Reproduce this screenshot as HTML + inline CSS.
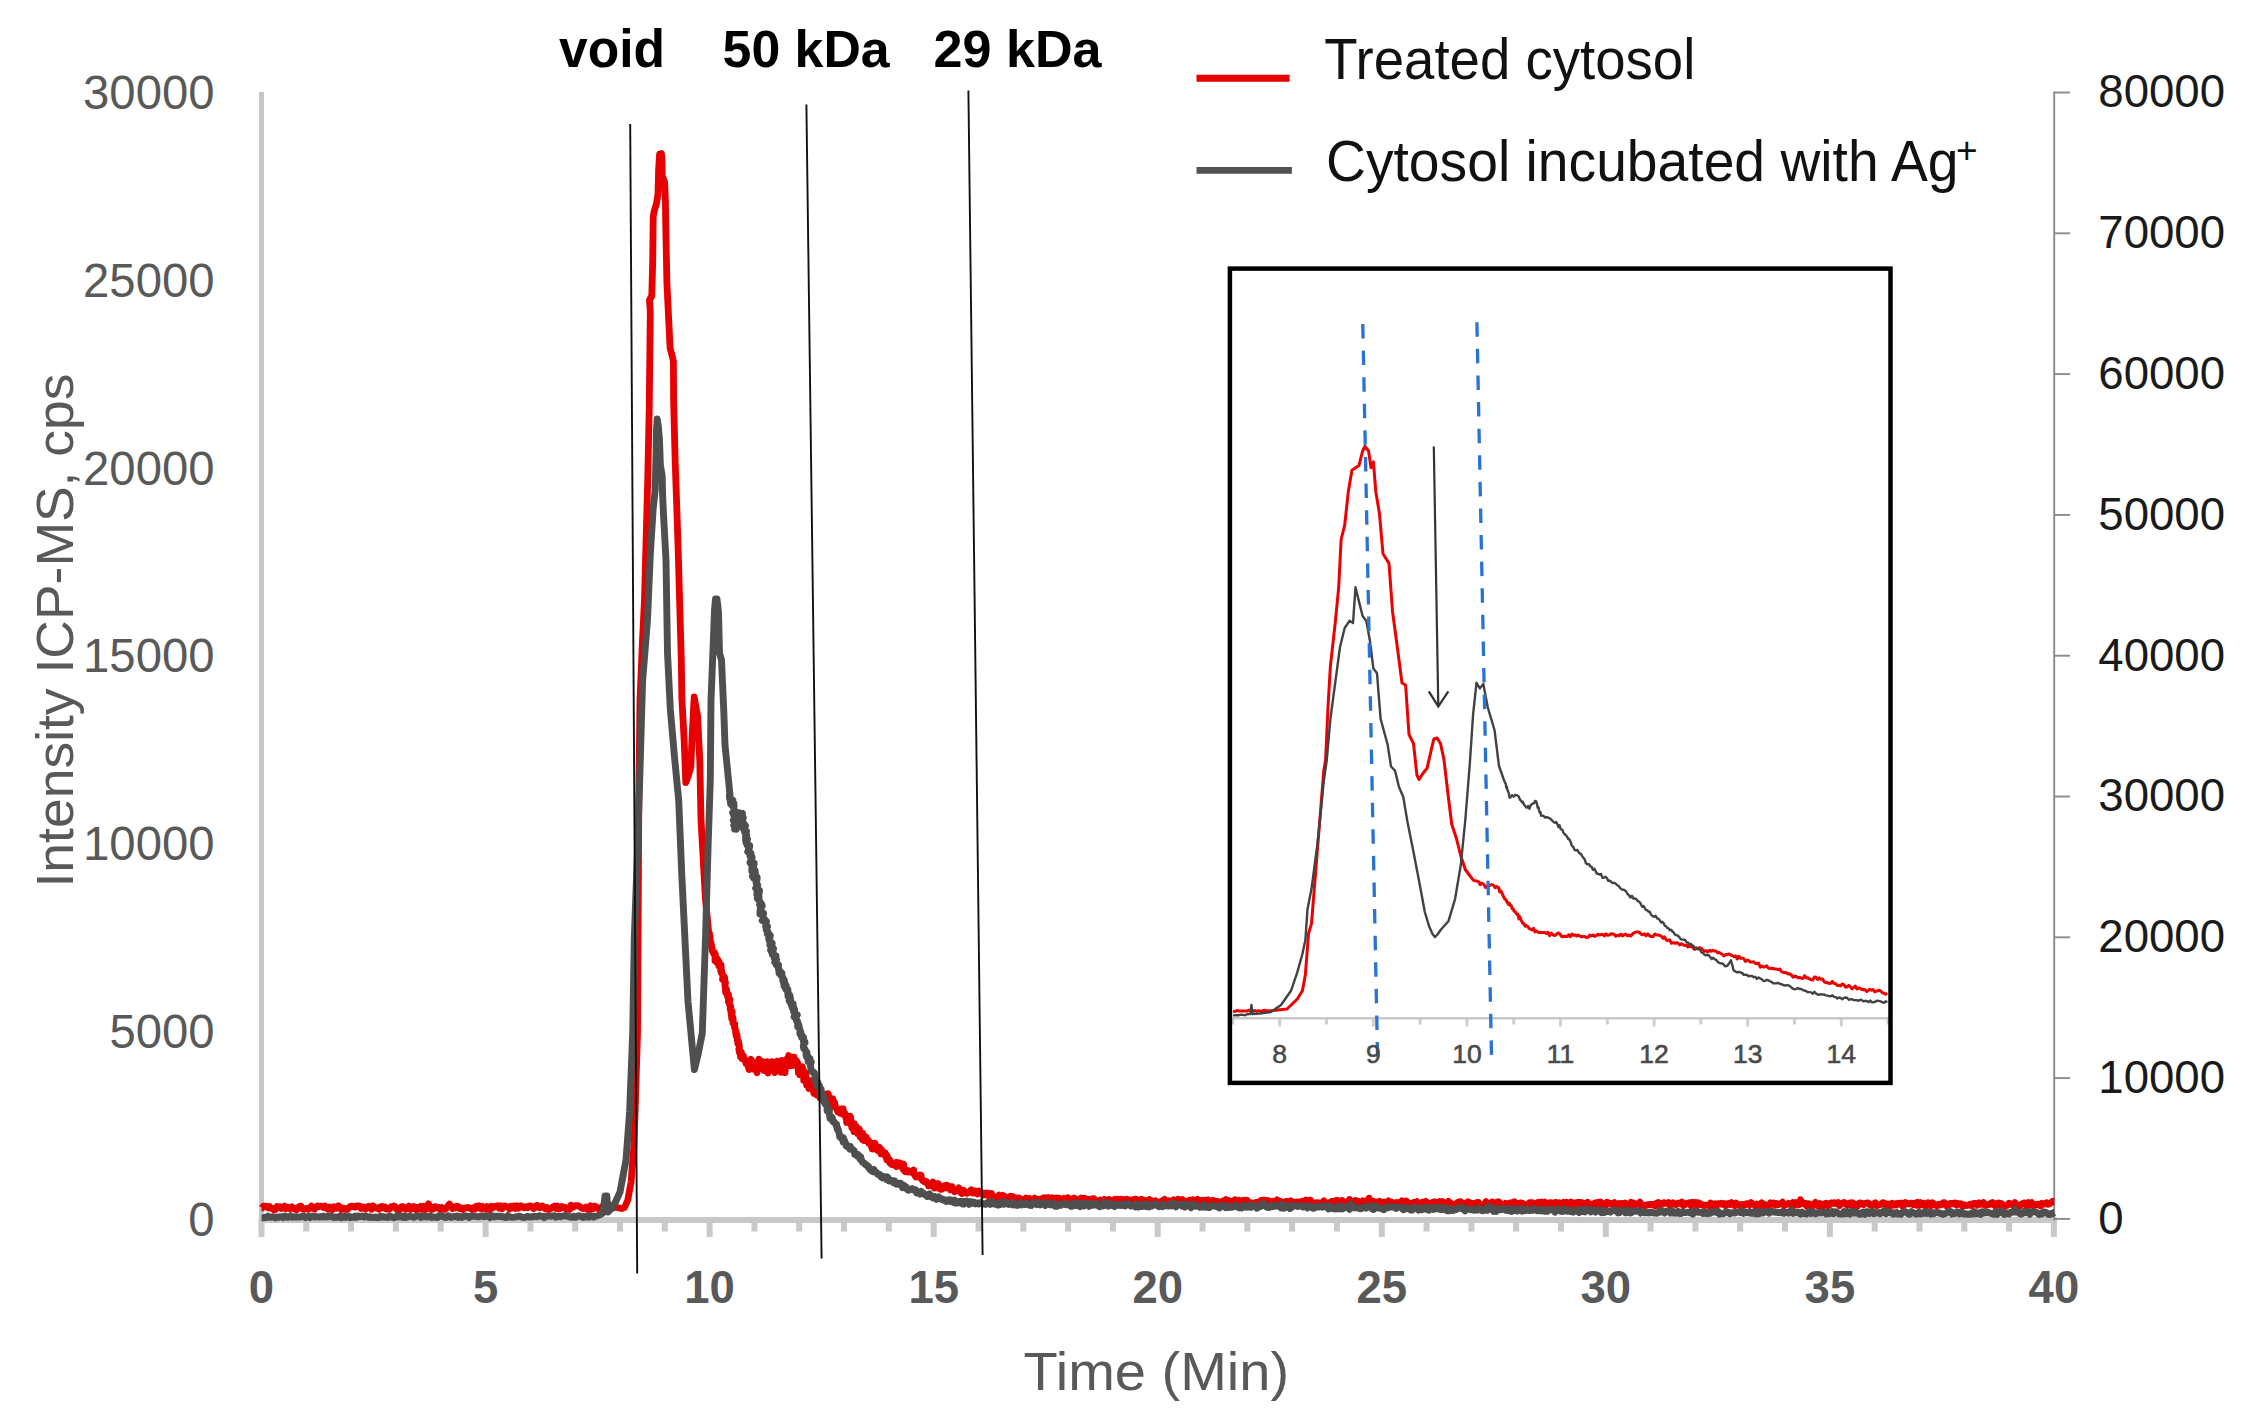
<!DOCTYPE html>
<html><head><meta charset="utf-8"><title>Chromatogram</title>
<style>
html,body{margin:0;padding:0;background:#fff;width:2246px;height:1423px;overflow:hidden}
svg{display:block;position:absolute;left:0;top:0}
</style></head><body>
<svg width="2246" height="1423" viewBox="0 0 2246 1423" font-family="'Liberation Sans', Arial, sans-serif"><g stroke="#c9c9c9" stroke-width="6"><line x1="261.5" y1="1219" x2="261.5" y2="1237"/><line x1="306.3" y1="1219" x2="306.3" y2="1231.5"/><line x1="351.1" y1="1219" x2="351.1" y2="1231.5"/><line x1="395.9" y1="1219" x2="395.9" y2="1231.5"/><line x1="440.7" y1="1219" x2="440.7" y2="1231.5"/><line x1="485.6" y1="1219" x2="485.6" y2="1237"/><line x1="530.4" y1="1219" x2="530.4" y2="1231.5"/><line x1="575.2" y1="1219" x2="575.2" y2="1231.5"/><line x1="620.0" y1="1219" x2="620.0" y2="1231.5"/><line x1="664.8" y1="1219" x2="664.8" y2="1231.5"/><line x1="709.6" y1="1219" x2="709.6" y2="1237"/><line x1="754.4" y1="1219" x2="754.4" y2="1231.5"/><line x1="799.2" y1="1219" x2="799.2" y2="1231.5"/><line x1="844.0" y1="1219" x2="844.0" y2="1231.5"/><line x1="888.8" y1="1219" x2="888.8" y2="1231.5"/><line x1="933.7" y1="1219" x2="933.7" y2="1237"/><line x1="978.5" y1="1219" x2="978.5" y2="1231.5"/><line x1="1023.3" y1="1219" x2="1023.3" y2="1231.5"/><line x1="1068.1" y1="1219" x2="1068.1" y2="1231.5"/><line x1="1112.9" y1="1219" x2="1112.9" y2="1231.5"/><line x1="1157.7" y1="1219" x2="1157.7" y2="1237"/><line x1="1202.5" y1="1219" x2="1202.5" y2="1231.5"/><line x1="1247.3" y1="1219" x2="1247.3" y2="1231.5"/><line x1="1292.1" y1="1219" x2="1292.1" y2="1231.5"/><line x1="1336.9" y1="1219" x2="1336.9" y2="1231.5"/><line x1="1381.8" y1="1219" x2="1381.8" y2="1237"/><line x1="1426.6" y1="1219" x2="1426.6" y2="1231.5"/><line x1="1471.4" y1="1219" x2="1471.4" y2="1231.5"/><line x1="1516.2" y1="1219" x2="1516.2" y2="1231.5"/><line x1="1561.0" y1="1219" x2="1561.0" y2="1231.5"/><line x1="1605.8" y1="1219" x2="1605.8" y2="1237"/><line x1="1650.6" y1="1219" x2="1650.6" y2="1231.5"/><line x1="1695.4" y1="1219" x2="1695.4" y2="1231.5"/><line x1="1740.2" y1="1219" x2="1740.2" y2="1231.5"/><line x1="1785.0" y1="1219" x2="1785.0" y2="1231.5"/><line x1="1829.9" y1="1219" x2="1829.9" y2="1237"/><line x1="1874.7" y1="1219" x2="1874.7" y2="1231.5"/><line x1="1919.5" y1="1219" x2="1919.5" y2="1231.5"/><line x1="1964.3" y1="1219" x2="1964.3" y2="1231.5"/><line x1="2009.1" y1="1219" x2="2009.1" y2="1231.5"/><line x1="2053.9" y1="1219" x2="2053.9" y2="1237"/></g>
<line x1="261.5" y1="92" x2="261.5" y2="1222" stroke="#c6c6c6" stroke-width="4.9"/>
<line x1="259" y1="1220" x2="2057" y2="1220" stroke="#c8c8c8" stroke-width="6"/>
<g stroke="#8a8a8a" stroke-width="1.9"><line x1="2054" y1="92.5" x2="2070" y2="92.5"/><line x1="2054" y1="233.3" x2="2070" y2="233.3"/><line x1="2054" y1="374.1" x2="2070" y2="374.1"/><line x1="2054" y1="514.9" x2="2070" y2="514.9"/><line x1="2054" y1="655.7" x2="2070" y2="655.7"/><line x1="2054" y1="796.5" x2="2070" y2="796.5"/><line x1="2054" y1="937.3" x2="2070" y2="937.3"/><line x1="2054" y1="1078.1" x2="2070" y2="1078.1"/><line x1="2054" y1="1218.9" x2="2070" y2="1218.9"/><line x1="2054.2" y1="91.5" x2="2054.2" y2="1220.5"/></g>
<polyline points="261.5,1208.1 262.0,1208.1 263.5,1206.2 265.0,1206.1 266.5,1206.3 268.0,1207.7 269.5,1206.5 271.0,1208.5 272.5,1208.3 274.0,1209.9 275.5,1209.4 277.0,1206.6 278.5,1207.2 280.0,1206.7 281.5,1208.5 283.0,1208.2 284.5,1206.2 286.0,1208.7 287.5,1207.2 289.0,1207.8 290.5,1209.1 292.0,1206.9 293.5,1208.1 295.0,1208.9 296.5,1209.9 298.0,1207.6 299.5,1206.6 301.0,1206.1 302.5,1209.0 304.0,1209.4 305.5,1208.7 307.0,1208.3 308.5,1209.3 310.0,1207.8 311.5,1206.2 313.0,1208.5 314.5,1209.2 316.0,1207.5 317.5,1206.0 319.0,1206.6 320.5,1206.1 322.0,1206.4 323.5,1207.5 325.0,1206.2 326.5,1208.1 328.0,1209.2 329.5,1207.0 331.0,1207.3 332.5,1209.7 334.0,1206.6 335.5,1206.8 337.0,1208.2 338.5,1205.9 340.0,1207.4 341.5,1209.7 343.0,1207.9 344.5,1208.6 346.0,1209.5 347.5,1209.4 349.0,1207.4 350.5,1206.3 352.0,1206.1 353.5,1206.7 355.0,1207.2 356.5,1205.9 358.0,1206.3 359.5,1206.0 361.0,1208.3 362.5,1206.9 364.0,1207.3 365.5,1209.2 367.0,1207.7 368.5,1206.2 370.0,1207.2 371.5,1209.2 373.0,1205.9 374.5,1207.9 376.0,1208.0 377.5,1207.9 379.0,1209.3 380.5,1206.9 382.0,1206.5 383.5,1208.0 385.0,1207.1 386.5,1209.1 388.0,1209.2 389.5,1209.1 391.0,1206.7 392.5,1207.2 394.0,1205.9 395.5,1206.8 397.0,1209.6 398.5,1209.6 400.0,1209.6 401.5,1206.7 403.0,1206.6 404.5,1208.3 406.0,1209.2 407.5,1208.4 409.0,1206.1 410.5,1209.4 412.0,1208.8 413.5,1206.5 415.0,1207.1 416.5,1209.7 418.0,1207.4 419.5,1208.7 421.0,1206.3 422.5,1209.4 424.0,1206.4 425.5,1209.7 427.0,1207.2 428.5,1203.8 430.0,1208.4 431.5,1209.5 433.0,1209.2 434.5,1206.6 436.0,1206.9 437.5,1208.1 439.0,1207.4 440.5,1209.4 442.0,1207.6 443.5,1209.4 445.0,1209.4 446.5,1207.9 448.0,1205.8 449.5,1204.2 451.0,1206.4 452.5,1208.6 454.0,1207.0 455.5,1207.9 457.0,1206.1 458.5,1206.7 460.0,1208.8 461.5,1208.0 463.0,1209.4 464.5,1208.2 466.0,1207.8 467.5,1207.5 469.0,1207.6 470.5,1208.5 472.0,1209.5 473.5,1207.9 475.0,1209.1 476.5,1206.2 478.0,1206.0 479.5,1206.0 481.0,1208.8 482.5,1206.3 484.0,1208.3 485.5,1209.2 487.0,1206.6 488.5,1207.3 490.0,1209.6 491.5,1206.3 493.0,1207.7 494.5,1206.4 496.0,1206.6 497.5,1205.8 499.0,1208.2 500.5,1205.9 502.0,1208.8 503.5,1206.1 505.0,1205.8 506.5,1206.7 508.0,1207.3 509.5,1208.9 511.0,1206.2 512.5,1207.9 514.0,1206.0 515.5,1208.4 517.0,1205.9 518.5,1208.2 520.0,1206.0 521.5,1205.9 523.0,1207.4 524.5,1207.8 526.0,1206.7 527.5,1207.7 529.0,1206.1 530.5,1205.8 532.0,1206.9 533.5,1208.6 535.0,1207.6 536.5,1205.4 538.0,1205.7 539.5,1207.8 541.0,1207.5 542.5,1206.0 544.0,1207.3 545.5,1208.9 547.0,1207.6 548.5,1209.5 550.0,1208.9 551.5,1208.1 553.0,1207.0 554.5,1206.1 556.0,1208.5 557.5,1206.2 559.0,1208.9 560.5,1208.3 562.0,1206.5 563.5,1207.4 565.0,1207.3 566.5,1209.4 568.0,1207.8 569.5,1209.4 571.0,1205.3 572.5,1207.5 574.0,1206.4 575.5,1205.6 577.0,1205.9 578.5,1205.7 580.0,1206.8 581.5,1207.9 583.0,1208.5 584.5,1208.4 586.0,1207.1 587.5,1209.5 589.0,1208.4 590.5,1205.7 592.0,1209.1 593.5,1208.5 595.0,1206.1 596.5,1207.5 598.0,1208.7 599.5,1207.9 601.0,1208.2 602.5,1206.4 604.0,1206.0 605.5,1205.9 607.0,1207.7 608.5,1208.0 610.0,1205.2 611.5,1208.5 615.0,1207.0 621.6,1208.5 624.5,1207.5 627.8,1200.0 631.1,1182.0 633.9,1146.0 635.5,1100.0 637.5,1033.0 638.3,900.0 638.8,800.0 640.0,700.0 642.5,640.0 644.5,600.0 645.5,562.0 647.8,477.0 649.2,410.0 649.9,348.0 650.3,312.0 649.5,300.0 651.8,296.0 652.7,261.0 653.2,217.0 654.0,212.0 656.6,203.0 658.0,194.0 658.6,170.0 659.6,154.0 661.4,153.5 662.0,160.0 662.3,176.0 664.6,182.0 665.4,200.0 665.6,217.0 666.9,283.0 670.1,348.0 673.4,361.0 673.6,400.0 675.2,462.0 676.8,508.0 678.3,554.5 679.5,597.0 681.3,660.0 681.9,699.0 684.1,739.0 685.8,782.5 688.5,775.0 690.8,767.0 692.0,739.0 694.2,697.0 697.6,716.0 699.8,761.0 701.0,820.0 705.5,900.0 708.7,932.0 708.7,932.0 709.2,933.3 709.5,933.2 708.7,934.9 709.9,936.1 710.2,937.1 710.0,940.7 710.2,940.0 710.9,942.2 710.9,943.2 710.3,942.5 711.5,944.3 711.4,945.6 710.9,945.6 712.1,947.8 712.0,950.0 712.8,952.0 713.0,951.3 713.4,953.3 714.6,952.6 715.3,954.1 715.0,957.0 715.0,960.7 717.1,958.7 717.3,962.9 717.7,959.5 719.0,962.0 718.9,966.0 719.1,964.9 720.7,965.7 720.8,964.3 721.3,967.9 720.6,970.3 721.3,972.8 720.9,968.2 721.9,972.4 721.8,972.3 722.4,973.8 723.0,976.0 722.5,979.5 724.1,980.1 724.5,977.0 724.8,982.3 724.2,980.6 725.5,982.5 724.8,985.1 724.9,985.2 724.9,983.7 725.5,990.5 725.7,992.5 726.4,988.9 726.5,989.6 727.6,996.3 727.5,996.5 728.3,998.4 728.2,997.0 728.5,994.6 728.8,998.7 728.4,1001.4 729.0,1001.5 729.9,999.4 729.5,1001.1 729.4,1004.0 730.8,1008.1 730.5,1005.8 730.6,1007.3 730.2,1009.2 730.6,1008.6 731.3,1015.5 732.2,1011.5 731.7,1018.6 731.6,1013.3 732.0,1014.1 732.1,1015.3 732.9,1017.8 733.5,1023.9 733.2,1021.4 733.4,1023.5 733.1,1023.2 734.8,1024.0 734.3,1024.0 735.2,1029.2 734.5,1027.1 734.9,1028.6 736.1,1031.4 735.6,1033.0 736.5,1037.0 735.5,1031.5 737.1,1038.4 737.0,1037.6 737.0,1035.0 737.9,1043.8 738.5,1044.4 737.4,1040.6 738.4,1041.0 739.4,1046.7 739.2,1048.2 739.2,1049.8 738.8,1049.2 739.4,1052.4 740.4,1054.8 739.9,1050.8 741.0,1051.5 740.5,1056.6 741.4,1052.4 741.5,1058.0 742.0,1058.5 743.0,1057.0 743.4,1056.0 745.3,1060.9 746.0,1063.5 745.9,1062.9 747.9,1061.8 748.0,1065.0 749.0,1069.6 750.0,1063.6 751.0,1059.3 752.0,1066.4 753.0,1069.0 754.0,1065.2 755.0,1062.7 756.0,1068.8 757.0,1072.7 758.0,1062.2 759.0,1059.2 760.0,1063.8 761.0,1065.0 762.0,1068.9 763.0,1061.6 764.0,1070.6 765.0,1069.7 766.0,1066.1 767.0,1061.6 768.0,1073.0 769.0,1063.1 770.0,1070.7 771.0,1061.9 772.0,1061.7 773.0,1069.8 774.0,1062.8 775.0,1072.6 776.0,1065.7 777.0,1061.1 778.0,1061.6 779.0,1064.5 780.0,1068.2 781.0,1072.4 782.0,1060.3 783.0,1064.0 784.0,1061.3 785.0,1072.7 786.0,1060.2 787.0,1058.8 788.0,1062.0 788.8,1055.5 790.4,1065.6 791.4,1062.7 791.8,1059.0 792.5,1065.5 794.1,1057.0 793.9,1065.1 795.2,1065.1 796.0,1062.4 796.5,1060.8 797.8,1063.2 798.4,1072.7 799.7,1068.0 800.0,1074.9 801.4,1068.3 801.6,1075.2 802.3,1066.7 803.5,1071.8 803.5,1070.6 803.7,1080.4 805.3,1075.4 805.0,1080.9 805.7,1073.0 806.6,1084.9 808.0,1083.8 807.9,1079.9 809.0,1088.5 809.5,1084.0 810.7,1081.9 811.2,1083.4 812.8,1080.5 813.6,1092.2 813.9,1093.3 815.4,1085.6 817.0,1095.0 817.1,1089.1 818.4,1090.4 819.4,1092.0 820.0,1097.8 821.6,1097.1 822.7,1098.1 823.1,1096.4 824.1,1093.9 824.8,1100.0 826.6,1094.1 826.7,1095.5 828.3,1093.9 829.2,1100.0 830.7,1098.9 831.6,1105.9 831.4,1099.8 832.8,1098.8 833.6,1106.4 834.4,1102.0 835.6,1107.1 836.7,1109.3 836.8,1109.2 837.9,1111.9 839.0,1109.0 839.8,1110.6 840.5,1113.4 841.4,1109.0 843.1,1108.9 843.3,1114.4 845.0,1113.3 845.0,1115.4 846.5,1119.5 846.7,1122.4 848.5,1117.8 849.0,1119.0 850.2,1123.6 850.1,1116.2 850.7,1118.1 851.9,1127.9 852.3,1128.4 853.1,1128.8 854.2,1123.5 854.1,1131.6 855.4,1129.0 855.8,1126.1 856.3,1126.4 857.4,1128.5 857.7,1133.5 858.7,1133.0 859.4,1129.0 860.1,1136.6 861.0,1133.9 862.4,1139.6 862.7,1133.2 864.2,1137.4 864.5,1140.7 866.1,1137.0 866.5,1140.3 868.2,1140.2 868.6,1143.0 869.7,1142.0 870.5,1143.2 872.1,1148.9 872.2,1144.9 873.1,1149.1 875.0,1143.2 875.8,1147.9 876.9,1148.5 877.0,1149.8 878.4,1151.0 879.4,1147.3 880.9,1153.8 881.5,1149.6 882.3,1152.9 883.0,1151.6 884.8,1155.7 885.2,1152.9 886.8,1159.8 886.8,1155.2 888.2,1158.6 889.9,1163.1 889.8,1159.8 891.3,1164.2 892.7,1164.7 893.2,1164.6 894.4,1164.9 896.2,1162.4 896.5,1166.6 898.0,1164.5 899.0,1162.8 900.1,1166.0 901.0,1163.4 902.9,1168.9 903.6,1164.1 904.1,1170.5 905.3,1171.8 906.9,1170.5 908.0,1170.4 908.9,1172.0 910.3,1171.1 911.5,1171.8 912.3,1172.6 913.6,1170.1 914.2,1174.3 916.0,1177.0 916.3,1175.3 917.8,1176.3 918.4,1176.8 919.9,1174.9 921.0,1175.3 921.6,1179.0 922.7,1180.6 924.7,1181.9 924.9,1181.0 926.4,1181.6 927.6,1182.2 928.4,1185.8 930.6,1185.6 931.7,1185.3 933.1,1182.1 934.3,1184.6 934.5,1188.0 936.7,1187.6 937.4,1186.2 938.4,1183.6 939.4,1188.3 940.8,1189.4 941.9,1189.1 944.0,1187.4 944.5,1185.8 945.8,1187.9 946.8,1185.2 948.9,1186.3 950.1,1189.7 951.2,1186.8 952.1,1186.7 953.2,1190.1 954.6,1191.7 956.2,1190.2 957.0,1190.0 958.8,1187.9 959.3,1191.1 960.4,1192.3 962.0,1193.5 963.5,1190.2 964.0,1190.8 965.1,1192.7 966.6,1193.3 968.7,1192.4 969.6,1192.3 970.0,1191.1 971.4,1189.8 973.0,1193.1 974.8,1192.7 975.2,1190.9 976.8,1193.0 977.5,1194.0 979.1,1191.0 980.3,1191.8 981.8,1192.6 982.6,1194.7 984.2,1195.1 985.9,1193.0 986.2,1193.8 988.0,1193.3 989.5,1197.3 990.1,1195.3 991.7,1193.7 992.6,1196.5 994.0,1197.2 995.5,1198.7 996.5,1197.0 998.2,1196.0 999.0,1195.2 999.8,1197.0 1001.7,1195.6 1002.7,1195.5 1003.4,1199.7 1005.2,1196.6 1006.4,1198.0 1007.1,1199.5 1008.4,1197.4 1010.4,1196.4 1011.4,1199.7 1012.8,1196.5 1013.5,1199.8 1014.7,1199.9 1016.0,1199.0 1016.7,1197.8 1017.9,1197.9 1019.9,1198.3 1021.3,1200.0 1021.8,1200.0 1023.2,1199.4 1024.5,1200.4 1025.9,1198.2 1026.6,1201.3 1027.6,1200.9 1029.1,1198.2 1031.1,1200.3 1031.6,1200.4 1032.8,1201.0 1034.7,1198.2 1035.7,1199.9 1037.2,1200.1 1038.3,1199.3 1039.5,1200.3 1040.6,1199.2 1041.3,1199.8 1042.9,1198.2 1044.4,1197.7 1044.6,1198.0 1046.9,1197.8 1047.2,1198.9 1048.3,1197.5 1050.2,1200.5 1051.5,1200.5 1052.6,1197.8 1054.1,1199.1 1055.4,1201.1 1056.5,1197.9 1057.9,1201.6 1058.2,1198.1 1059.2,1198.1 1061.3,1201.4 1062.6,1200.5 1063.1,1200.5 1064.1,1198.2 1065.5,1201.1 1067.0,1199.2 1068.0,1197.9 1069.7,1199.1 1070.5,1199.5 1071.9,1202.1 1073.3,1201.6 1074.2,1198.0 1075.9,1199.9 1077.0,1199.5 1077.6,1200.3 1078.7,1201.8 1080.0,1201.6 1081.3,1198.1 1083.4,1201.4 1084.1,1198.1 1085.6,1200.3 1086.5,1199.0 1088.1,1199.7 1089.5,1199.3 1089.8,1199.5 1091.4,1201.3 1092.7,1198.7 1094.1,1198.6 1095.0,1200.5 1097.0,1201.3 1098.5,1201.0 1100.0,1200.1 1101.5,1202.1 1103.0,1202.1 1104.5,1199.4 1106.0,1202.2 1107.5,1200.1 1109.0,1199.5 1110.5,1200.7 1112.0,1201.6 1113.5,1200.0 1115.0,1199.3 1116.5,1201.3 1118.0,1199.3 1119.5,1201.8 1121.0,1199.2 1122.5,1202.2 1124.0,1199.5 1125.5,1201.5 1127.0,1199.3 1128.5,1199.7 1130.0,1200.8 1131.5,1200.1 1133.0,1202.7 1134.5,1199.2 1136.0,1199.2 1137.5,1202.7 1139.0,1201.7 1140.5,1199.6 1142.0,1199.3 1143.5,1200.4 1145.0,1200.5 1146.5,1201.6 1148.0,1201.4 1149.5,1199.5 1151.0,1200.5 1152.5,1202.5 1154.0,1201.2 1155.5,1200.6 1157.0,1201.8 1158.5,1202.1 1160.0,1202.4 1161.5,1201.5 1163.0,1200.2 1164.5,1199.4 1166.0,1202.1 1167.5,1201.5 1169.0,1200.7 1170.5,1201.5 1172.0,1201.8 1173.5,1199.8 1175.0,1202.2 1176.5,1201.0 1178.0,1199.3 1179.5,1199.8 1181.0,1202.9 1182.5,1199.5 1184.0,1201.3 1185.5,1201.2 1187.0,1202.5 1188.5,1200.8 1190.0,1200.0 1191.5,1200.8 1193.0,1199.7 1194.5,1200.6 1196.0,1200.3 1197.5,1199.3 1199.0,1200.9 1200.5,1200.7 1202.0,1200.2 1203.5,1203.0 1205.0,1200.2 1206.5,1200.9 1208.0,1199.8 1209.5,1202.6 1211.0,1201.2 1212.5,1200.3 1214.0,1200.8 1215.5,1202.7 1217.0,1201.3 1218.5,1201.6 1220.0,1202.7 1221.5,1202.8 1223.0,1200.9 1224.5,1201.1 1226.0,1199.5 1227.5,1200.6 1229.0,1200.7 1230.5,1201.2 1232.0,1202.1 1233.5,1203.2 1235.0,1199.7 1236.5,1203.2 1238.0,1200.1 1239.5,1200.6 1241.0,1203.4 1242.5,1200.6 1244.0,1200.2 1245.5,1202.7 1247.0,1200.2 1248.5,1202.8 1250.0,1203.2 1251.5,1202.8 1253.0,1203.2 1254.5,1203.0 1256.0,1202.4 1257.5,1202.7 1259.0,1203.2 1260.5,1200.8 1262.0,1200.3 1263.5,1200.0 1265.0,1200.3 1266.5,1201.7 1268.0,1200.5 1269.5,1201.6 1271.0,1202.4 1272.5,1201.3 1274.0,1203.7 1275.5,1202.4 1277.0,1199.9 1278.5,1202.6 1280.0,1201.2 1281.5,1201.9 1283.0,1203.5 1284.5,1202.8 1286.0,1201.3 1287.5,1201.4 1289.0,1202.0 1290.5,1200.8 1292.0,1201.6 1293.5,1203.3 1295.0,1203.3 1296.5,1202.0 1298.0,1202.0 1299.5,1202.6 1301.5,1201.3 1303.0,1201.2 1304.5,1202.6 1306.0,1200.2 1307.5,1203.6 1309.0,1200.3 1310.5,1200.1 1312.0,1203.8 1313.5,1202.7 1315.0,1203.7 1316.5,1202.6 1318.0,1202.9 1319.5,1202.9 1321.0,1202.8 1322.5,1203.2 1324.0,1200.9 1325.5,1203.3 1327.0,1202.8 1328.5,1203.5 1330.0,1202.5 1331.5,1201.4 1333.0,1201.5 1334.5,1202.8 1336.0,1200.5 1337.5,1200.4 1339.0,1203.5 1340.5,1204.0 1342.0,1200.4 1343.5,1202.7 1345.0,1204.3 1346.5,1202.0 1348.0,1203.0 1349.5,1199.5 1351.0,1203.1 1352.5,1204.3 1354.0,1203.9 1355.5,1200.5 1357.0,1201.4 1358.5,1201.2 1360.0,1203.6 1361.5,1203.9 1363.0,1200.8 1364.5,1203.3 1366.0,1204.2 1367.5,1204.4 1369.0,1198.1 1370.5,1203.8 1372.0,1201.8 1373.5,1201.2 1375.0,1202.5 1376.5,1202.1 1378.0,1202.4 1379.5,1201.2 1381.0,1202.1 1382.5,1203.2 1384.0,1202.2 1385.5,1204.5 1387.0,1203.0 1388.5,1200.9 1390.0,1203.5 1391.5,1202.1 1393.0,1204.6 1394.5,1203.2 1396.0,1202.5 1397.5,1202.3 1399.0,1203.2 1400.5,1204.0 1402.0,1200.8 1403.5,1202.5 1405.0,1204.1 1406.5,1201.0 1408.0,1204.1 1409.5,1203.2 1411.0,1204.3 1412.5,1203.6 1414.0,1202.3 1415.5,1203.1 1417.0,1201.7 1418.5,1204.7 1420.0,1203.4 1421.5,1202.8 1423.0,1202.0 1424.5,1204.2 1426.0,1201.4 1427.5,1204.1 1429.0,1203.3 1430.5,1204.6 1432.0,1203.0 1433.5,1201.8 1435.0,1201.8 1436.5,1202.5 1438.0,1202.7 1439.5,1201.7 1441.0,1205.1 1442.5,1201.6 1444.0,1204.3 1445.5,1203.5 1447.0,1203.2 1448.5,1201.3 1450.0,1204.7 1451.5,1203.5 1453.0,1204.3 1454.5,1205.0 1456.0,1204.5 1457.5,1202.3 1459.0,1202.1 1460.5,1201.6 1462.0,1203.5 1463.5,1203.1 1465.0,1205.0 1466.5,1203.7 1468.0,1201.8 1469.5,1202.4 1471.0,1203.9 1472.5,1204.1 1474.0,1203.2 1475.5,1205.3 1477.0,1202.3 1478.5,1202.4 1480.0,1205.0 1481.5,1204.8 1483.0,1204.6 1484.5,1204.1 1486.0,1201.7 1487.5,1204.5 1489.0,1204.2 1490.5,1203.9 1492.0,1202.0 1493.5,1202.6 1495.0,1203.5 1496.5,1202.5 1498.0,1201.7 1499.5,1202.4 1501.0,1205.3 1502.5,1205.4 1504.0,1205.2 1505.5,1203.4 1507.0,1205.4 1508.5,1204.2 1510.0,1203.0 1511.5,1203.6 1513.0,1202.3 1514.5,1201.9 1516.0,1203.9 1517.5,1205.2 1519.0,1203.4 1520.5,1202.8 1522.0,1203.1 1523.5,1203.8 1525.0,1205.4 1526.5,1205.7 1528.0,1205.4 1529.5,1202.7 1531.0,1203.0 1532.5,1202.7 1534.0,1205.8 1535.5,1205.6 1537.0,1203.1 1538.5,1202.1 1540.0,1203.1 1541.5,1202.0 1543.0,1203.3 1544.5,1202.0 1546.0,1204.1 1547.5,1203.7 1549.0,1202.9 1551.5,1202.6 1553.0,1205.1 1554.5,1202.8 1556.0,1202.4 1557.5,1204.0 1559.0,1202.8 1560.5,1204.8 1562.0,1204.3 1563.5,1202.3 1565.0,1203.6 1566.5,1202.2 1568.0,1203.4 1569.5,1205.5 1571.0,1202.1 1572.5,1203.9 1574.0,1203.1 1575.5,1205.4 1577.0,1202.7 1578.5,1202.1 1580.0,1203.8 1581.5,1202.5 1583.0,1205.3 1584.5,1203.3 1586.0,1203.6 1587.5,1202.3 1589.0,1205.9 1590.5,1204.1 1592.0,1204.2 1593.5,1205.9 1595.0,1202.8 1596.5,1203.0 1598.0,1202.2 1599.5,1204.8 1601.0,1202.1 1602.5,1204.4 1604.0,1204.9 1605.5,1205.5 1607.0,1202.2 1608.5,1204.0 1610.0,1203.2 1611.5,1203.7 1613.0,1204.4 1614.5,1202.7 1616.0,1205.1 1617.5,1205.4 1619.0,1203.6 1620.5,1205.4 1622.0,1203.7 1623.5,1205.2 1625.0,1203.0 1626.5,1203.8 1628.0,1205.3 1629.5,1205.3 1631.0,1202.3 1632.5,1205.9 1634.0,1203.1 1635.5,1204.6 1637.0,1204.2 1638.5,1203.8 1640.0,1202.2 1641.5,1206.0 1643.0,1205.8 1644.5,1205.3 1646.0,1205.6 1647.5,1204.7 1649.0,1204.8 1650.5,1204.3 1652.0,1204.6 1653.5,1204.2 1655.0,1205.9 1656.5,1203.3 1658.0,1202.6 1659.5,1205.9 1661.0,1203.2 1662.5,1204.2 1664.0,1202.6 1665.5,1203.3 1667.0,1203.3 1668.5,1202.5 1670.0,1205.5 1671.5,1204.4 1673.0,1202.9 1674.5,1204.0 1676.0,1204.6 1677.5,1203.4 1679.0,1203.0 1680.5,1203.7 1682.0,1202.2 1683.5,1205.6 1685.0,1204.4 1686.5,1203.3 1688.0,1203.3 1689.5,1202.8 1691.0,1205.6 1692.5,1202.4 1694.0,1203.9 1695.5,1202.6 1697.0,1206.0 1698.5,1202.8 1700.0,1203.6 1701.5,1204.6 1703.0,1205.4 1704.5,1205.1 1706.0,1205.2 1707.5,1205.3 1709.0,1205.8 1710.5,1203.0 1712.0,1204.5 1713.5,1206.0 1715.0,1203.8 1716.5,1205.7 1718.0,1203.7 1719.5,1204.0 1721.0,1203.3 1722.5,1204.4 1724.0,1203.5 1725.5,1205.6 1727.0,1204.0 1728.5,1203.4 1730.0,1204.5 1731.5,1202.5 1733.0,1203.5 1734.5,1205.5 1736.0,1203.0 1737.5,1204.3 1739.0,1204.4 1740.5,1205.9 1742.0,1204.3 1743.5,1204.3 1745.0,1204.9 1746.5,1203.6 1748.0,1203.6 1749.5,1204.9 1751.0,1202.6 1752.5,1203.8 1754.0,1204.5 1755.5,1206.1 1757.0,1204.0 1758.5,1206.2 1760.0,1204.3 1761.5,1202.9 1763.0,1206.1 1764.5,1204.3 1766.0,1205.8 1767.5,1205.5 1769.0,1205.8 1770.5,1202.8 1772.0,1204.3 1773.5,1203.0 1775.0,1204.7 1776.5,1203.6 1778.0,1204.8 1779.5,1203.9 1781.0,1203.5 1782.5,1202.2 1784.0,1205.6 1785.5,1204.9 1787.0,1204.2 1788.5,1203.3 1790.0,1204.4 1791.5,1204.5 1793.0,1202.7 1794.5,1205.3 1796.0,1202.6 1797.5,1204.3 1799.0,1204.7 1800.5,1199.8 1802.0,1203.5 1803.5,1203.7 1805.0,1203.3 1806.5,1205.9 1808.0,1203.7 1809.5,1203.8 1811.0,1205.8 1812.5,1206.1 1814.0,1204.7 1815.5,1202.4 1817.0,1205.7 1818.5,1205.9 1820.0,1203.5 1821.5,1206.1 1823.0,1206.1 1824.5,1203.8 1826.0,1203.2 1827.5,1205.8 1829.0,1205.5 1830.5,1203.0 1832.0,1203.0 1833.5,1203.4 1835.0,1202.7 1836.5,1203.8 1838.0,1202.6 1839.5,1205.6 1841.0,1203.3 1842.5,1203.4 1844.0,1202.4 1845.5,1203.7 1847.0,1205.1 1848.5,1203.4 1850.0,1202.8 1851.5,1205.6 1853.0,1202.9 1854.5,1205.2 1856.0,1206.1 1857.5,1206.1 1859.0,1203.2 1860.5,1202.8 1862.0,1203.4 1863.5,1204.7 1865.0,1203.3 1866.5,1203.2 1868.0,1202.8 1869.5,1204.5 1871.0,1205.4 1872.5,1205.0 1874.0,1203.6 1875.5,1202.7 1877.0,1205.7 1878.5,1205.0 1880.0,1204.6 1881.5,1204.3 1883.0,1202.6 1884.5,1203.2 1886.0,1205.2 1887.5,1204.0 1889.0,1205.4 1890.5,1205.8 1892.0,1203.4 1893.5,1205.1 1895.0,1203.8 1896.5,1205.0 1898.0,1203.3 1899.5,1203.8 1901.0,1203.1 1902.5,1206.0 1904.0,1205.2 1905.5,1202.5 1907.0,1203.2 1908.5,1203.9 1910.0,1203.6 1911.5,1203.1 1913.0,1204.6 1914.5,1203.4 1916.0,1205.1 1917.5,1202.4 1919.0,1205.5 1920.5,1202.5 1922.0,1204.8 1923.5,1203.4 1925.0,1205.5 1926.5,1206.0 1928.0,1202.7 1929.5,1204.0 1931.0,1205.7 1932.5,1202.7 1934.0,1204.1 1935.5,1205.2 1937.0,1205.7 1938.5,1204.2 1940.0,1205.2 1941.5,1204.4 1943.0,1202.9 1944.5,1202.6 1946.0,1205.6 1947.5,1204.6 1949.0,1205.0 1950.5,1203.4 1952.0,1203.8 1953.5,1203.2 1955.0,1203.0 1956.5,1205.1 1958.0,1203.4 1959.5,1204.2 1961.0,1203.8 1962.5,1206.0 1964.0,1204.7 1965.5,1205.7 1967.0,1205.5 1968.5,1205.1 1970.0,1204.3 1971.5,1205.7 1973.0,1203.6 1974.5,1203.3 1976.0,1203.6 1977.5,1205.2 1979.0,1202.9 1980.5,1204.3 1982.0,1203.1 1983.5,1202.5 1985.0,1205.4 1986.5,1205.3 1988.0,1204.7 1989.5,1204.4 1991.0,1203.2 1992.5,1202.5 1994.0,1205.0 1995.5,1206.2 1997.0,1203.5 1998.5,1203.0 2000.0,1205.5 2001.5,1203.6 2003.0,1205.0 2004.5,1206.2 2006.0,1205.6 2007.5,1205.4 2009.0,1203.2 2010.5,1203.7 2012.0,1204.7 2013.5,1205.8 2015.0,1202.6 2016.5,1205.0 2018.0,1205.3 2019.5,1206.3 2021.0,1204.5 2022.5,1203.7 2024.0,1202.8 2025.5,1203.1 2027.0,1206.4 2028.5,1202.6 2030.0,1203.2 2031.5,1202.5 2033.0,1205.9 2034.5,1204.2 2036.0,1205.1 2037.5,1204.2 2039.0,1204.2 2040.5,1205.8 2042.0,1203.2 2043.5,1204.3 2045.0,1203.9 2046.5,1202.8 2048.0,1204.3 2050.0,1203.5 2052.5,1201.5 2054.3,1201.5" fill="none" stroke="#e60000" stroke-width="6.8" stroke-linejoin="round" stroke-linecap="butt"/>
<polyline points="261.5,1217.9 262.0,1217.9 263.5,1217.9 265.0,1217.2 266.5,1217.6 268.0,1216.1 269.5,1217.3 271.0,1217.2 272.5,1216.6 274.0,1217.1 275.5,1217.9 277.0,1216.9 278.5,1217.3 280.0,1216.6 281.5,1216.7 283.0,1217.7 284.5,1216.0 286.0,1216.3 287.5,1217.3 289.0,1216.9 290.5,1216.1 292.0,1217.3 293.5,1216.7 295.0,1217.1 296.5,1216.8 298.0,1217.0 299.5,1217.1 301.0,1216.7 302.5,1216.2 304.0,1216.3 305.5,1217.7 307.0,1217.0 308.5,1216.2 310.0,1217.6 311.5,1216.4 313.0,1216.1 314.5,1217.0 316.0,1216.4 317.5,1216.9 319.0,1217.0 320.5,1216.4 322.0,1217.1 323.5,1216.1 325.0,1216.9 326.5,1217.1 328.0,1216.1 329.5,1216.7 331.0,1216.0 332.5,1216.8 334.0,1217.6 335.5,1217.0 337.0,1217.3 338.5,1217.4 340.0,1216.1 341.5,1217.9 343.0,1217.3 344.5,1216.1 346.0,1217.5 347.5,1216.7 349.0,1216.2 350.5,1217.8 352.0,1217.0 353.5,1217.4 355.0,1216.1 356.5,1217.4 358.0,1216.0 359.5,1216.3 361.0,1216.6 362.5,1215.9 364.0,1217.0 365.5,1216.3 367.0,1216.4 368.5,1217.3 370.0,1216.7 371.5,1217.6 373.0,1217.1 374.5,1217.6 376.0,1217.0 377.5,1217.7 379.0,1217.6 380.5,1216.2 382.0,1217.3 383.5,1216.5 385.0,1217.3 386.5,1217.2 388.0,1217.5 389.5,1216.1 391.0,1216.6 392.5,1217.3 394.0,1217.7 395.5,1217.2 397.0,1215.9 398.5,1217.0 400.0,1216.0 401.5,1216.9 403.0,1217.4 404.5,1216.0 406.0,1217.6 407.5,1217.1 409.0,1216.3 410.5,1216.2 412.0,1216.7 413.5,1217.4 415.0,1216.9 416.5,1216.0 418.0,1215.8 419.5,1216.0 421.0,1217.4 422.5,1216.1 424.0,1216.9 425.5,1216.3 427.0,1217.1 428.5,1216.5 430.0,1216.0 431.5,1217.5 433.0,1216.8 434.5,1217.1 436.0,1217.4 437.5,1217.6 439.0,1215.8 440.5,1216.4 442.0,1216.0 443.5,1216.7 445.0,1217.5 446.5,1217.3 448.0,1215.8 449.5,1216.1 451.0,1217.4 452.5,1217.1 454.0,1216.5 455.5,1216.7 457.0,1216.0 458.5,1217.4 460.0,1216.5 461.5,1217.4 463.0,1216.9 464.5,1215.8 466.0,1216.4 467.5,1216.1 469.0,1217.5 470.5,1216.9 472.0,1215.8 473.5,1216.0 475.0,1216.4 476.5,1216.6 478.0,1216.8 479.5,1216.5 481.0,1216.4 482.5,1215.7 484.0,1216.8 485.5,1216.3 487.0,1215.7 488.5,1216.6 490.0,1217.6 491.5,1215.7 493.0,1215.9 494.5,1217.0 496.0,1216.2 497.5,1216.2 499.0,1216.6 500.5,1216.2 502.0,1216.8 503.5,1216.7 505.0,1217.6 506.5,1217.6 508.0,1215.7 509.5,1216.8 511.0,1217.2 512.5,1217.4 514.0,1217.2 515.5,1216.9 517.0,1216.9 518.5,1216.3 520.0,1216.2 521.5,1217.2 523.0,1217.4 524.5,1217.5 526.0,1217.0 527.5,1216.2 529.0,1217.1 530.5,1217.1 532.0,1216.6 533.5,1216.9 535.0,1216.3 536.5,1216.7 538.0,1216.4 539.5,1215.7 541.0,1216.3 542.5,1216.2 544.0,1217.6 545.5,1216.5 547.0,1216.3 548.5,1216.1 550.0,1216.0 551.5,1216.3 553.0,1215.8 554.5,1215.6 556.0,1217.3 557.5,1216.5 559.0,1216.4 560.5,1216.7 562.0,1216.2 563.5,1215.9 565.0,1215.7 566.5,1216.1 568.0,1216.2 569.5,1217.0 571.0,1216.6 572.5,1217.4 574.0,1216.2 575.5,1217.4 577.0,1216.7 578.5,1215.7 580.0,1215.9 581.5,1216.7 583.0,1217.5 584.5,1216.2 586.0,1217.1 587.5,1216.4 589.0,1217.2 590.5,1215.6 592.0,1216.5 593.5,1217.3 595.0,1216.1 596.5,1216.0 598.0,1215.5 600.0,1215.0 603.0,1213.0 605.0,1196.0 606.8,1196.0 608.0,1212.0 613.7,1206.0 620.0,1192.0 626.0,1160.0 629.6,1112.0 632.7,1033.0 634.3,938.0 637.5,850.0 639.4,790.0 642.6,681.0 647.5,620.0 650.3,554.5 653.2,508.0 655.2,490.0 655.9,460.0 656.5,430.0 657.2,419.0 658.3,426.0 659.5,440.0 660.4,465.0 662.2,476.0 662.6,495.0 663.6,516.0 666.0,560.0 667.5,653.0 670.3,709.0 674.5,757.0 678.7,800.0 681.8,875.0 688.0,1001.5 694.4,1069.6 698.0,1055.0 702.3,1033.0 705.5,938.0 708.0,850.0 710.3,780.0 711.0,700.0 713.0,650.0 714.5,610.0 715.5,599.0 717.0,599.0 718.5,612.0 719.5,653.0 721.5,660.0 723.7,709.0 725.0,745.0 728.0,775.0 730.0,795.0 730.0,795.0 729.4,794.5 729.5,798.4 729.8,798.1 732.8,800.3 730.4,801.7 733.8,803.4 730.6,803.9 734.1,806.1 731.5,805.0 733.3,807.0 733.6,806.7 734.2,811.3 732.7,812.8 735.0,811.0 733.8,813.9 733.7,815.2 734.2,813.3 735.2,814.5 734.8,817.2 734.1,819.7 733.3,820.3 735.6,823.8 733.8,825.3 736.6,824.7 734.3,824.5 734.7,824.8 734.6,829.1 736.4,829.0 736.3,829.3 737.2,826.6 737.7,825.5 736.7,824.4 736.6,823.8 738.8,822.4 737.3,821.5 740.1,820.2 737.7,817.3 740.5,816.4 739.0,815.0 738.3,812.6 741.9,813.8 742.5,813.4 742.1,816.0 741.8,818.3 741.4,818.4 741.7,816.0 743.3,817.4 742.2,821.1 743.1,824.2 742.5,821.5 745.5,825.7 742.3,824.0 743.2,828.3 744.4,830.6 743.9,830.1 744.5,832.1 746.4,831.0 745.9,831.1 745.7,832.1 746.7,835.0 745.7,834.6 745.6,838.0 747.5,838.7 746.7,842.6 745.6,840.2 746.5,841.5 746.0,842.6 747.9,846.4 749.5,845.3 748.2,846.0 749.6,846.9 747.7,851.7 750.1,852.2 748.5,851.1 750.9,853.3 750.4,852.8 749.9,856.2 751.7,857.3 752.0,856.6 751.9,858.6 750.0,862.3 753.3,863.4 751.8,862.8 750.3,863.0 754.1,863.3 754.1,864.0 753.7,865.9 751.9,866.8 751.8,870.9 755.1,870.4 755.2,873.5 752.4,876.0 755.4,873.5 752.9,877.0 753.9,877.3 753.7,878.1 757.2,877.3 757.0,880.0 755.8,880.2 755.9,881.5 756.4,884.5 757.3,884.1 757.7,885.2 755.7,888.2 757.3,888.7 757.0,892.7 759.5,890.4 758.8,895.0 757.1,893.2 756.9,894.3 758.7,894.5 759.1,897.5 757.4,898.5 759.9,901.4 759.8,901.9 761.6,903.8 760.9,906.0 759.7,904.8 762.2,906.1 760.4,907.2 761.0,909.0 760.1,909.8 759.9,913.9 763.6,913.2 762.8,912.6 761.8,914.4 761.7,914.8 764.5,919.2 762.2,920.7 763.5,920.9 764.7,921.8 766.5,921.4 766.1,921.0 765.6,926.5 767.6,926.4 766.7,925.8 766.2,929.6 766.6,930.6 767.3,930.8 768.0,932.1 767.3,934.0 768.4,934.9 769.0,934.0 770.3,935.4 770.0,937.6 769.5,939.0 768.6,938.7 770.3,943.4 770.6,942.5 769.9,945.1 772.2,943.1 771.9,945.7 773.1,948.7 770.6,950.0 773.6,948.7 771.5,952.1 772.2,949.9 772.9,950.8 773.8,955.5 772.6,954.9 776.0,955.8 774.5,958.4 775.0,958.6 776.5,959.6 774.8,962.2 776.0,963.0 776.1,963.3 776.9,963.7 776.3,964.9 778.6,965.2 777.8,965.6 778.6,970.0 779.0,969.2 779.0,972.9 782.0,973.1 781.0,972.1 782.1,976.2 780.7,975.2 782.7,977.0 782.6,977.9 782.8,980.4 784.3,980.0 783.7,983.2 784.8,982.2 784.0,986.1 786.0,987.5 786.2,985.6 784.7,986.6 786.1,989.9 786.8,989.9 788.0,992.9 787.9,989.7 787.8,993.0 788.0,996.1 789.9,995.4 789.0,996.4 790.4,997.9 789.8,999.0 790.9,1001.0 789.1,1000.8 791.1,1003.3 792.2,1004.9 790.8,1002.8 793.1,1003.7 791.2,1005.0 793.0,1009.4 793.8,1007.1 793.6,1011.5 794.6,1009.3 794.6,1012.3 795.7,1016.3 794.0,1016.9 795.6,1015.3 797.4,1014.8 795.5,1017.3 795.9,1018.6 797.2,1022.5 797.2,1021.9 797.2,1020.7 799.1,1026.0 797.8,1027.1 797.6,1024.9 798.9,1027.7 799.7,1028.7 800.0,1029.7 800.0,1031.5 799.9,1033.8 801.3,1035.5 800.9,1032.4 801.5,1036.0 801.6,1037.3 803.4,1037.1 803.5,1038.4 803.5,1042.1 804.8,1041.6 805.0,1042.7 804.1,1042.0 803.3,1046.0 803.7,1048.3 804.4,1048.2 805.8,1051.0 806.0,1051.6 806.8,1052.2 805.9,1051.5 806.1,1055.3 806.6,1056.9 806.6,1054.1 809.4,1058.6 808.9,1058.0 809.9,1058.4 808.2,1061.7 809.5,1062.0 810.5,1061.0 811.3,1062.0 810.1,1064.4 810.7,1066.9 810.7,1067.9 811.6,1070.7 811.6,1071.5 814.2,1072.4 812.1,1071.6 814.2,1072.6 814.4,1073.0 814.6,1073.5 814.9,1077.7 814.5,1078.6 815.0,1080.4 817.6,1082.0 816.9,1083.2 816.9,1081.2 817.7,1084.5 817.1,1086.5 819.4,1085.5 819.1,1087.1 819.4,1087.8 819.0,1087.0 821.2,1089.0 820.1,1092.9 820.1,1094.5 822.7,1094.1 823.1,1094.0 821.5,1096.7 822.8,1096.3 824.0,1097.1 824.5,1097.9 823.3,1099.7 823.8,1102.0 825.9,1103.2 825.5,1104.5 826.1,1103.1 826.9,1104.5 827.1,1105.9 827.1,1108.1 827.1,1110.7 829.3,1109.5 829.5,1111.5 829.2,1113.4 829.7,1116.2 829.4,1114.0 830.0,1118.4 831.5,1117.7 831.9,1117.1 832.5,1118.4 832.7,1121.1 833.4,1120.7 833.3,1121.8 835.4,1123.1 836.0,1125.4 836.6,1124.3 836.9,1127.5 837.2,1129.0 837.9,1128.5 837.5,1129.3 838.3,1129.8 839.0,1133.0 839.3,1134.1 839.7,1136.7 840.7,1136.3 842.4,1137.4 841.8,1138.9 843.5,1137.8 843.2,1142.0 845.0,1141.4 845.2,1143.3 846.1,1144.2 846.0,1145.7 847.4,1146.8 847.6,1145.4 849.0,1146.8 850.3,1146.6 850.2,1149.4 851.1,1148.8 852.1,1149.1 854.1,1150.5 854.7,1154.3 855.2,1152.9 856.7,1155.1 857.1,1155.9 858.0,1154.4 858.7,1156.6 860.0,1159.0 860.8,1156.7 860.9,1158.7 862.5,1162.2 862.7,1162.1 864.7,1163.4 865.3,1164.6 866.3,1165.2 866.7,1165.1 868.1,1167.0 868.6,1166.5 869.3,1168.8 870.6,1170.0 871.1,1170.7 872.9,1171.6 873.9,1169.4 874.1,1170.1 875.2,1171.9 876.9,1172.8 877.6,1174.4 878.4,1174.4 879.8,1174.5 880.8,1176.7 882.0,1177.8 882.4,1176.2 884.2,1177.7 885.0,1177.0 886.3,1179.5 887.1,1176.8 887.9,1177.4 889.2,1181.1 890.3,1180.8 891.2,1180.3 892.8,1180.9 893.5,1182.5 894.6,1180.9 895.8,1183.9 897.1,1184.3 898.0,1184.2 899.3,1183.2 900.5,1183.3 901.4,1184.3 902.6,1187.8 904.1,1185.4 905.2,1187.4 906.2,1187.0 907.3,1189.6 908.3,1190.2 909.4,1190.1 910.5,1189.4 912.2,1188.5 913.3,1190.0 914.2,1189.7 915.5,1189.6 916.6,1192.9 917.8,1192.0 919.2,1191.9 920.2,1194.2 921.3,1191.4 922.7,1193.2 923.7,1193.2 924.6,1194.6 926.0,1194.6 927.0,1196.4 928.5,1194.7 929.5,1193.9 930.5,1196.6 931.8,1196.0 932.9,1198.0 933.7,1197.9 934.9,1196.6 936.5,1199.3 937.4,1198.0 938.7,1196.9 939.6,1198.8 941.2,1198.4 942.2,1199.5 943.4,1200.2 944.7,1199.7 946.1,1201.5 947.3,1201.1 948.7,1199.8 949.8,1201.3 950.7,1199.9 952.3,1201.3 953.2,1202.3 954.6,1200.2 955.6,1203.1 957.0,1202.0 958.0,1202.9 959.2,1201.4 960.6,1201.5 962.2,1203.9 963.1,1201.2 964.2,1204.0 965.6,1201.8 966.8,1201.1 968.1,1202.2 969.2,1204.3 970.9,1201.6 972.1,1202.6 973.3,1203.3 974.1,1202.2 975.5,1203.9 976.8,1203.0 978.1,1203.2 979.1,1204.0 980.7,1202.6 981.6,1203.2 982.8,1203.6 983.9,1204.2 985.4,1204.4 986.9,1202.7 987.7,1202.4 989.1,1201.8 990.4,1204.3 991.7,1203.1 992.6,1202.0 994.2,1204.0 995.3,1204.0 996.3,1204.5 997.8,1205.1 998.8,1203.0 1000.0,1204.7 1001.5,1202.5 1002.5,1203.8 1004.0,1204.3 1004.9,1202.4 1006.1,1202.2 1007.6,1203.8 1008.7,1204.4 1009.9,1203.5 1011.3,1203.1 1012.5,1204.9 1013.7,1202.7 1014.8,1204.9 1016.0,1204.0 1017.5,1205.4 1018.6,1204.9 1019.9,1204.6 1021.0,1202.7 1022.1,1204.8 1023.0,1203.3 1024.7,1204.5 1025.6,1203.3 1026.7,1203.1 1028.4,1204.8 1029.3,1205.3 1030.3,1204.9 1031.7,1205.4 1033.1,1202.4 1034.1,1202.9 1035.4,1202.7 1036.8,1204.5 1038.1,1202.6 1038.9,1202.9 1040.2,1204.8 1041.6,1203.7 1042.9,1203.3 1044.2,1203.3 1045.2,1205.5 1046.6,1202.7 1047.6,1202.7 1048.6,1204.1 1050.2,1204.9 1051.2,1204.8 1052.5,1204.5 1053.9,1203.5 1055.1,1206.3 1056.0,1206.2 1057.1,1206.3 1058.3,1204.5 1059.9,1204.4 1060.9,1205.3 1062.0,1204.0 1063.3,1204.3 1064.8,1203.5 1065.8,1204.7 1067.2,1203.6 1068.1,1203.6 1069.6,1204.9 1070.8,1206.4 1072.2,1206.3 1073.3,1205.5 1074.2,1203.2 1075.8,1203.0 1076.8,1205.6 1077.9,1203.9 1079.3,1203.6 1080.3,1206.6 1081.4,1203.2 1083.1,1204.3 1084.0,1206.0 1085.0,1203.4 1086.7,1203.6 1088.0,1204.8 1089.1,1206.4 1090.3,1204.9 1091.1,1203.6 1092.6,1205.2 1093.6,1203.9 1095.0,1205.0 1096.5,1203.4 1098.0,1205.7 1099.5,1206.7 1101.0,1205.8 1102.5,1206.1 1104.0,1202.0 1105.5,1205.4 1107.0,1203.4 1108.5,1206.1 1110.0,1203.6 1111.5,1205.3 1113.0,1204.6 1114.5,1206.5 1116.0,1205.7 1117.5,1204.3 1119.0,1204.8 1120.5,1205.5 1122.0,1204.2 1123.5,1205.6 1125.0,1206.0 1126.5,1203.8 1128.0,1203.8 1129.5,1205.0 1131.0,1206.1 1132.5,1205.9 1134.0,1205.3 1135.5,1206.8 1137.0,1203.9 1138.5,1207.1 1140.0,1205.1 1141.5,1206.5 1143.0,1206.3 1144.5,1204.1 1146.0,1206.5 1147.5,1204.0 1149.0,1207.0 1150.5,1206.1 1152.0,1206.0 1153.5,1204.8 1155.0,1203.9 1156.5,1204.2 1158.0,1206.3 1159.5,1206.7 1161.0,1205.7 1162.5,1206.6 1164.0,1204.3 1165.5,1205.9 1167.0,1205.7 1168.5,1206.0 1170.0,1204.3 1171.5,1205.9 1173.0,1202.8 1174.5,1204.1 1176.0,1206.8 1177.5,1204.5 1179.0,1204.8 1180.5,1204.5 1182.0,1206.0 1183.5,1204.5 1185.0,1207.1 1186.5,1204.5 1188.0,1205.2 1189.5,1204.7 1191.0,1207.6 1192.5,1204.3 1194.0,1204.6 1195.5,1206.3 1197.0,1205.8 1198.5,1206.4 1200.0,1207.4 1201.5,1207.0 1203.0,1207.2 1204.5,1204.5 1206.0,1207.3 1207.5,1207.4 1209.0,1207.6 1210.5,1206.8 1212.0,1205.5 1213.5,1205.6 1215.0,1206.0 1216.5,1206.7 1218.0,1207.1 1219.5,1207.9 1221.0,1205.5 1222.5,1205.9 1224.0,1205.3 1225.5,1207.7 1227.0,1207.2 1228.5,1207.6 1230.0,1206.4 1231.5,1207.4 1233.0,1206.8 1234.5,1206.5 1236.0,1205.2 1237.5,1206.9 1239.0,1207.9 1240.5,1207.8 1242.0,1208.0 1243.5,1205.5 1245.0,1206.0 1246.5,1207.2 1248.0,1205.4 1249.5,1207.1 1251.0,1207.4 1252.5,1205.7 1254.0,1204.9 1255.5,1205.6 1257.0,1208.2 1258.5,1206.9 1260.0,1206.9 1261.5,1206.0 1263.0,1203.1 1264.5,1205.4 1266.0,1206.6 1267.5,1207.3 1269.0,1207.6 1270.5,1205.4 1272.0,1206.4 1273.5,1206.6 1275.0,1205.4 1276.5,1206.2 1278.0,1205.2 1279.5,1205.9 1281.0,1207.8 1282.5,1204.3 1284.0,1208.2 1285.5,1207.4 1287.0,1207.4 1288.5,1205.7 1290.0,1208.5 1291.5,1207.4 1293.0,1206.0 1294.5,1205.3 1296.0,1205.7 1297.5,1206.5 1299.0,1205.8 1301.5,1206.2 1303.0,1207.1 1304.5,1206.2 1306.0,1206.3 1307.5,1208.0 1309.0,1206.1 1310.5,1206.7 1312.0,1207.6 1313.5,1208.4 1315.0,1207.7 1316.5,1206.3 1318.0,1207.0 1319.5,1207.1 1321.0,1205.9 1322.5,1207.2 1324.0,1206.4 1325.5,1206.0 1327.0,1206.9 1328.5,1208.9 1330.0,1205.9 1331.5,1208.2 1333.0,1208.7 1334.5,1208.7 1336.0,1209.0 1337.5,1206.6 1339.0,1208.8 1340.5,1206.1 1342.0,1209.0 1343.5,1208.4 1345.0,1207.4 1346.5,1206.6 1348.0,1207.2 1349.5,1209.3 1351.0,1204.1 1352.5,1207.8 1354.0,1207.6 1355.5,1207.9 1357.0,1207.8 1358.5,1208.3 1360.0,1208.8 1361.5,1208.6 1363.0,1207.4 1364.5,1206.8 1366.0,1208.2 1367.5,1206.5 1369.0,1206.4 1370.5,1206.7 1372.0,1208.8 1373.5,1209.5 1375.0,1205.7 1376.5,1207.1 1378.0,1208.1 1379.5,1208.0 1381.0,1208.5 1382.5,1209.3 1384.0,1209.8 1385.5,1207.2 1387.0,1207.6 1388.5,1207.7 1390.0,1206.6 1391.5,1207.1 1393.0,1206.6 1394.5,1207.5 1396.0,1208.5 1397.5,1207.1 1399.0,1207.1 1400.5,1207.2 1402.0,1208.5 1403.5,1209.7 1405.0,1207.5 1406.5,1208.7 1408.0,1208.2 1409.5,1209.0 1411.0,1210.1 1412.5,1210.0 1414.0,1207.0 1415.5,1207.2 1417.0,1207.9 1418.5,1210.2 1420.0,1208.4 1421.5,1209.8 1423.0,1209.2 1424.5,1207.4 1426.0,1209.3 1427.5,1209.8 1429.0,1210.3 1430.5,1207.3 1432.0,1209.0 1433.5,1209.5 1435.0,1207.9 1436.5,1208.9 1438.0,1207.4 1439.5,1209.3 1441.0,1209.5 1442.5,1207.3 1444.0,1209.6 1445.5,1209.5 1447.0,1210.6 1448.5,1208.1 1450.0,1210.6 1451.5,1208.8 1453.0,1210.5 1454.5,1209.9 1456.0,1209.7 1457.5,1207.9 1459.0,1208.2 1460.5,1207.6 1462.0,1208.9 1463.5,1207.8 1465.0,1210.8 1466.5,1208.8 1468.0,1209.1 1469.5,1209.3 1471.0,1209.9 1472.5,1208.9 1474.0,1210.3 1475.5,1209.9 1477.0,1210.1 1478.5,1208.4 1480.0,1208.8 1481.5,1210.6 1483.0,1210.7 1484.5,1209.8 1486.0,1207.9 1487.5,1210.3 1489.0,1206.4 1490.5,1208.4 1492.0,1208.8 1493.5,1211.3 1495.0,1208.4 1496.5,1211.3 1498.0,1209.2 1499.5,1209.1 1501.0,1209.7 1502.5,1208.3 1504.0,1208.6 1505.5,1210.2 1507.0,1209.0 1508.5,1210.6 1510.0,1209.8 1511.5,1211.4 1513.0,1208.4 1514.5,1210.6 1516.0,1210.7 1517.5,1211.0 1519.0,1208.6 1520.5,1209.0 1522.0,1211.1 1523.5,1209.2 1525.0,1210.6 1526.5,1208.9 1528.0,1210.4 1529.5,1210.6 1531.0,1209.3 1532.5,1210.3 1534.0,1208.6 1535.5,1209.3 1537.0,1210.7 1538.5,1210.7 1540.0,1209.3 1541.5,1210.9 1543.0,1209.2 1544.5,1211.3 1546.0,1211.1 1547.5,1211.4 1549.0,1209.8 1550.5,1208.9 1552.0,1209.1 1553.5,1210.5 1555.0,1212.0 1556.5,1210.4 1558.0,1209.2 1559.5,1210.6 1561.0,1211.3 1562.5,1211.5 1564.0,1209.2 1565.5,1210.6 1567.0,1211.2 1568.5,1210.1 1570.0,1211.4 1571.5,1210.3 1573.0,1212.2 1574.5,1211.2 1576.0,1210.6 1577.5,1210.1 1579.0,1212.5 1580.5,1209.6 1582.0,1211.3 1583.5,1209.4 1585.0,1211.8 1586.5,1209.5 1588.0,1209.6 1589.5,1209.4 1591.0,1211.9 1592.5,1209.7 1594.0,1209.9 1595.5,1212.2 1597.0,1210.0 1598.5,1210.8 1600.0,1209.8 1601.5,1212.7 1603.0,1210.3 1604.5,1212.5 1606.0,1211.1 1607.5,1211.6 1609.0,1211.1 1610.5,1212.1 1612.0,1210.2 1613.5,1210.0 1615.0,1210.8 1616.5,1210.5 1618.0,1213.0 1619.5,1212.6 1621.0,1210.3 1622.5,1210.9 1624.0,1211.2 1625.5,1212.7 1627.0,1209.8 1628.5,1211.9 1630.0,1213.1 1631.5,1212.7 1633.0,1210.8 1634.5,1211.2 1636.0,1211.2 1637.5,1210.7 1639.0,1211.4 1640.5,1213.0 1642.0,1210.8 1643.5,1212.8 1645.0,1212.5 1646.5,1212.8 1648.0,1212.3 1649.5,1213.0 1651.0,1212.0 1652.5,1212.9 1654.0,1213.0 1655.5,1213.2 1657.0,1213.4 1658.5,1212.5 1660.0,1210.4 1661.5,1212.1 1663.0,1211.4 1664.5,1213.0 1666.0,1211.1 1667.5,1211.2 1669.0,1211.5 1670.5,1213.1 1672.0,1210.7 1673.5,1213.0 1675.0,1212.0 1676.5,1213.2 1678.0,1211.5 1679.5,1213.6 1681.0,1213.6 1682.5,1211.6 1684.0,1212.5 1685.5,1212.6 1687.0,1212.4 1688.5,1212.1 1690.0,1212.9 1691.5,1211.9 1693.0,1214.0 1694.5,1211.1 1696.0,1210.9 1697.5,1212.2 1699.0,1212.2 1701.5,1212.6 1703.0,1213.4 1704.5,1211.6 1706.0,1213.5 1707.5,1213.7 1709.0,1212.3 1710.5,1213.2 1712.0,1211.6 1713.5,1212.0 1715.0,1211.5 1716.5,1212.5 1718.0,1211.4 1719.5,1214.1 1721.0,1213.5 1722.5,1213.8 1724.0,1213.4 1725.5,1212.1 1727.0,1211.6 1728.5,1212.5 1730.0,1213.8 1731.5,1212.6 1733.0,1212.7 1734.5,1213.0 1736.0,1212.3 1737.5,1211.8 1739.0,1212.3 1740.5,1212.5 1742.0,1211.0 1743.5,1213.3 1745.0,1211.7 1746.5,1212.6 1748.0,1212.9 1749.5,1211.6 1751.0,1213.3 1752.5,1213.3 1754.0,1211.8 1755.5,1213.9 1757.0,1214.0 1758.5,1211.3 1760.0,1213.5 1761.5,1211.4 1763.0,1213.0 1764.5,1212.1 1766.0,1211.8 1767.5,1211.5 1769.0,1213.0 1770.5,1211.5 1772.0,1211.3 1773.5,1212.0 1775.0,1211.6 1776.5,1212.4 1778.0,1212.6 1779.5,1212.5 1781.0,1212.9 1782.5,1211.6 1784.0,1213.3 1785.5,1212.3 1787.0,1212.4 1788.5,1213.2 1790.0,1211.5 1791.5,1210.1 1793.0,1213.4 1794.5,1213.0 1796.0,1212.3 1797.5,1212.0 1799.0,1213.2 1800.5,1214.1 1802.0,1212.2 1803.5,1213.6 1805.0,1213.2 1806.5,1214.1 1808.0,1212.3 1809.5,1211.4 1811.0,1213.6 1812.5,1212.1 1814.0,1212.6 1815.5,1213.9 1817.0,1212.8 1818.5,1213.1 1820.0,1212.1 1821.5,1213.0 1823.0,1211.9 1824.5,1212.3 1826.0,1214.0 1827.5,1212.0 1829.0,1213.7 1830.5,1213.3 1832.0,1211.7 1833.5,1213.7 1835.0,1211.8 1836.5,1211.9 1838.0,1213.4 1839.5,1214.1 1841.0,1214.0 1842.5,1214.1 1844.0,1211.7 1845.5,1213.9 1847.0,1211.4 1848.5,1213.5 1850.0,1214.2 1851.5,1211.3 1853.0,1211.2 1854.5,1213.1 1856.0,1211.6 1857.5,1213.1 1859.0,1214.2 1860.5,1214.3 1862.0,1212.4 1863.5,1211.9 1865.0,1214.3 1866.5,1211.7 1868.0,1211.6 1869.5,1213.5 1871.0,1212.8 1872.5,1211.2 1874.0,1213.7 1875.5,1212.6 1877.0,1213.1 1878.5,1212.4 1880.0,1213.9 1881.5,1212.9 1883.0,1211.7 1884.5,1210.7 1886.0,1213.7 1887.5,1211.2 1889.0,1212.5 1890.5,1213.0 1892.0,1212.5 1893.5,1214.2 1895.0,1213.1 1896.5,1212.4 1898.0,1214.1 1899.5,1213.7 1901.0,1214.4 1902.5,1212.2 1904.0,1212.0 1905.5,1211.7 1907.0,1212.8 1908.5,1214.1 1910.0,1214.2 1911.5,1211.7 1913.0,1213.0 1914.5,1213.1 1916.0,1214.2 1917.5,1213.7 1919.0,1212.1 1920.5,1214.0 1922.0,1213.5 1923.5,1213.5 1925.0,1211.5 1926.5,1213.5 1928.0,1213.3 1929.5,1212.4 1931.0,1214.2 1932.5,1212.6 1934.0,1213.8 1935.5,1212.7 1937.0,1212.5 1938.5,1212.7 1940.0,1213.6 1941.5,1213.4 1943.0,1214.4 1944.5,1213.6 1946.0,1213.3 1947.5,1212.0 1949.0,1211.4 1950.5,1211.5 1952.0,1214.1 1953.5,1212.7 1955.0,1213.6 1956.5,1212.4 1958.0,1211.9 1959.5,1213.9 1961.0,1211.9 1962.5,1212.3 1964.0,1214.2 1965.5,1213.8 1967.0,1214.2 1968.5,1214.2 1970.0,1214.4 1971.5,1213.3 1973.0,1214.0 1974.5,1211.6 1976.0,1213.9 1977.5,1213.7 1979.0,1212.8 1980.5,1214.4 1982.0,1211.8 1983.5,1213.1 1985.0,1211.8 1986.5,1212.8 1988.0,1212.2 1989.5,1213.1 1991.0,1213.2 1992.5,1214.1 1994.0,1214.4 1995.5,1211.8 1997.0,1214.4 1998.5,1213.1 2000.0,1211.4 2001.5,1211.7 2003.0,1213.3 2004.5,1214.4 2006.0,1212.5 2007.5,1213.4 2009.0,1214.1 2010.5,1212.5 2012.0,1212.3 2013.5,1212.1 2015.0,1209.2 2016.5,1212.0 2018.0,1211.7 2019.5,1213.5 2021.0,1214.3 2022.5,1213.5 2024.0,1211.4 2025.5,1212.7 2027.0,1212.4 2028.5,1211.4 2030.0,1214.3 2031.5,1212.2 2033.0,1211.9 2034.5,1211.7 2036.0,1212.2 2037.5,1213.0 2039.0,1214.5 2040.5,1213.6 2042.0,1214.0 2043.5,1211.7 2045.0,1212.2 2046.5,1212.6 2048.0,1214.4 2049.5,1214.6 2051.0,1213.5 2052.5,1213.7 2054.0,1212.5 2054.3,1212.5" fill="none" stroke="#4f4f4f" stroke-width="6.9" stroke-linejoin="round" stroke-linecap="butt"/>
<g stroke="#111" stroke-width="1.9"><line x1="630.2" y1="124" x2="637.2" y2="1273.5"/><line x1="806.4" y1="104.5" x2="821.6" y2="1258.5"/><line x1="968.4" y1="90.5" x2="982.6" y2="1255"/></g>
<rect x="1231" y="270" width="658.5" height="812" fill="#fff" stroke="none"/>
<g stroke="#cfcfcf" stroke-width="3"><line x1="1232.9" y1="1018" x2="1232.9" y2="1024.5"/><line x1="1279.7" y1="1018" x2="1279.7" y2="1026.5"/><line x1="1326.5" y1="1018" x2="1326.5" y2="1024.5"/><line x1="1373.3" y1="1018" x2="1373.3" y2="1026.5"/><line x1="1420.1" y1="1018" x2="1420.1" y2="1024.5"/><line x1="1466.9" y1="1018" x2="1466.9" y2="1026.5"/><line x1="1513.7" y1="1018" x2="1513.7" y2="1024.5"/><line x1="1560.5" y1="1018" x2="1560.5" y2="1026.5"/><line x1="1607.3" y1="1018" x2="1607.3" y2="1024.5"/><line x1="1654.1" y1="1018" x2="1654.1" y2="1026.5"/><line x1="1700.9" y1="1018" x2="1700.9" y2="1024.5"/><line x1="1747.7" y1="1018" x2="1747.7" y2="1026.5"/><line x1="1794.5" y1="1018" x2="1794.5" y2="1024.5"/><line x1="1841.3" y1="1018" x2="1841.3" y2="1026.5"/><line x1="1888.1" y1="1018" x2="1888.1" y2="1024.5"/></g>
<line x1="1232" y1="1018.3" x2="1888" y2="1018.3" stroke="#c8c8c8" stroke-width="2.4"/>
<polyline points="1233.0,1011.1 1235.0,1011.5 1237.0,1010.5 1239.0,1011.0 1241.0,1011.1 1243.0,1011.1 1245.0,1010.9 1247.0,1011.1 1249.0,1010.2 1251.0,1010.3 1253.0,1010.9 1255.0,1010.6 1257.0,1011.4 1259.0,1010.6 1261.0,1011.5 1263.0,1010.6 1265.0,1010.3 1267.0,1011.0 1269.0,1010.8 1271.0,1010.7 1287.0,1009.0 1297.3,999.0 1302.4,990.8 1305.4,974.4 1308.5,933.7 1311.5,923.5 1315.6,872.5 1319.7,821.5 1323.8,770.6 1325.6,760.0 1328.0,706.8 1330.4,666.2 1335.2,623.2 1338.7,587.3 1341.1,539.5 1344.7,525.2 1348.3,491.7 1351.9,470.2 1359.0,465.4 1362.6,451.0 1365.0,446.3 1368.6,451.0 1371.0,467.8 1373.4,461.8 1375.8,491.7 1379.4,513.2 1383.0,553.8 1389.0,563.4 1392.5,611.2 1397.3,647.0 1402.0,683.0 1405.6,685.0 1409.0,734.5 1413.5,743.5 1416.9,775.0 1419.1,779.5 1422.5,774.0 1427.0,768.3 1433.8,739.0 1437.1,738.0 1440.5,743.5 1443.9,759.3 1448.4,797.5 1451.8,824.5 1456.3,838.0 1460.8,856.0 1465.3,869.5 1472.0,878.5 1472.0,878.5 1473.7,880.4 1475.4,880.9 1477.1,880.9 1478.8,882.0 1480.1,884.7 1481.5,883.0 1482.8,883.7 1484.2,884.8 1485.5,887.5 1487.0,886.5 1488.5,886.1 1490.0,885.3 1491.7,884.6 1493.4,885.1 1495.1,887.7 1496.8,886.4 1497.8,887.6 1498.7,887.6 1499.7,892.0 1500.6,890.9 1501.6,891.9 1502.5,894.4 1503.5,896.5 1504.5,898.7 1505.4,899.1 1506.4,901.0 1507.4,902.3 1508.4,904.5 1509.3,903.2 1510.3,905.5 1511.3,905.6 1512.2,908.8 1513.2,908.7 1514.1,911.3 1515.1,911.6 1516.0,913.0 1517.0,914.5 1518.0,914.2 1518.9,918.9 1519.9,916.8 1520.9,919.6 1521.9,921.6 1522.8,923.4 1523.8,923.5 1525.1,926.2 1526.5,925.6 1527.8,926.7 1529.2,928.6 1530.5,929.0 1532.0,929.9 1533.5,928.4 1535.0,931.9 1536.5,930.7 1538.0,932.2 1539.5,932.5 1541.2,932.2 1542.9,932.6 1544.6,932.5 1546.2,933.4 1547.9,932.4 1549.6,935.6 1551.3,933.2 1553.0,934.8 1554.8,935.6 1556.5,934.3 1558.3,932.9 1560.0,934.2 1561.8,936.7 1563.5,936.4 1565.3,936.2 1567.0,936.6 1568.8,934.8 1570.4,936.7 1572.0,934.0 1573.6,935.3 1575.2,935.0 1576.8,936.0 1578.4,935.0 1580.0,936.1 1581.6,936.9 1583.2,936.5 1584.8,936.6 1586.4,937.5 1588.1,937.3 1589.7,935.1 1591.3,936.0 1593.0,935.0 1594.6,936.4 1596.2,935.4 1597.9,934.2 1599.5,935.1 1601.1,934.5 1602.8,934.4 1604.4,935.8 1606.1,933.8 1607.7,935.3 1609.4,935.1 1611.0,933.7 1612.7,933.9 1614.3,934.4 1615.9,936.2 1617.6,935.2 1619.2,935.8 1620.8,934.1 1622.5,935.9 1624.1,934.8 1625.7,934.1 1627.4,935.8 1629.0,935.1 1630.7,935.9 1632.5,933.9 1634.2,932.9 1635.9,932.0 1637.7,931.9 1639.4,932.2 1641.1,934.2 1642.8,934.8 1644.5,933.8 1646.1,935.8 1647.8,933.9 1649.5,935.7 1651.2,936.6 1653.0,936.6 1654.9,934.0 1656.8,935.0 1658.6,935.1 1660.1,935.5 1661.6,936.3 1663.0,938.3 1664.5,936.9 1666.0,939.6 1667.8,940.7 1669.7,939.9 1671.5,943.3 1673.3,942.5 1674.9,943.3 1676.6,942.8 1678.2,943.3 1679.8,944.9 1681.5,943.6 1683.1,944.8 1684.7,945.5 1686.4,945.0 1688.0,947.0 1689.6,946.3 1691.3,946.7 1692.9,947.5 1694.6,949.4 1696.2,947.7 1697.9,948.9 1699.5,947.6 1701.2,948.5 1702.8,949.9 1704.4,951.3 1706.1,950.7 1707.7,952.0 1709.4,950.3 1711.0,951.3 1712.7,950.3 1714.3,951.1 1716.0,950.9 1717.6,952.8 1719.2,952.6 1720.9,953.5 1722.5,954.6 1724.2,956.0 1725.8,954.5 1727.5,954.3 1729.1,954.0 1730.8,954.9 1732.4,955.8 1734.0,956.7 1735.7,956.0 1737.3,959.0 1738.9,956.3 1740.6,958.4 1742.2,958.1 1743.8,958.6 1745.5,961.4 1747.1,960.2 1748.7,960.5 1750.4,962.1 1752.0,962.0 1753.7,961.8 1755.3,963.3 1757.0,963.7 1758.6,963.0 1760.3,967.2 1761.9,966.1 1763.5,967.1 1765.2,966.7 1766.8,965.9 1768.4,968.2 1770.1,968.3 1771.7,968.5 1773.3,968.5 1775.0,969.0 1776.6,969.1 1778.2,969.7 1779.9,969.0 1781.5,971.7 1783.2,972.2 1784.8,972.6 1786.5,972.8 1788.1,973.9 1789.8,973.8 1791.4,975.0 1793.0,977.1 1794.7,976.2 1796.3,976.4 1798.0,977.9 1799.6,977.5 1801.3,978.2 1802.9,978.5 1804.6,975.7 1806.2,977.9 1807.8,977.8 1809.5,978.9 1811.1,979.8 1812.8,980.1 1814.4,976.9 1816.1,977.3 1817.7,979.5 1819.4,977.9 1821.0,979.4 1822.6,979.0 1824.3,981.9 1825.9,982.7 1827.5,982.5 1829.2,983.5 1830.8,983.2 1832.4,981.3 1834.1,983.5 1835.7,983.8 1837.3,985.5 1839.0,985.2 1840.6,985.9 1842.2,984.0 1843.9,984.6 1845.5,987.1 1847.1,986.9 1848.8,985.4 1850.4,986.8 1852.0,988.8 1853.7,987.5 1855.3,986.0 1857.0,989.0 1858.6,987.9 1860.3,988.2 1861.9,989.7 1863.6,989.5 1865.2,989.7 1866.8,991.6 1868.4,990.3 1869.9,989.3 1871.5,990.2 1873.1,989.5 1874.7,991.8 1876.2,991.1 1877.8,990.7 1879.4,990.2 1881.0,991.4 1882.6,992.8 1884.1,993.4 1885.7,994.2 1887.3,993.4" fill="none" stroke="#ee0000" stroke-width="3.0" stroke-linejoin="round"/>
<polyline points="1233.0,1015.4 1235.0,1015.3 1237.0,1015.1 1239.0,1015.2 1241.0,1014.7 1243.0,1014.9 1245.0,1015.2 1247.0,1014.2 1249.0,1014.0 1250.5,1014.0 1251.4,1005.0 1252.5,1014.0 1260.0,1013.5 1270.8,1012.0 1281.0,1005.0 1291.0,990.8 1297.3,972.4 1302.4,954.0 1305.4,939.8 1307.5,909.2 1311.5,888.8 1317.7,842.0 1323.8,780.8 1326.8,760.0 1330.4,718.8 1335.2,683.0 1340.0,647.0 1344.7,628.0 1349.5,620.8 1353.0,623.0 1355.5,587.3 1359.0,601.6 1362.6,616.0 1366.2,620.8 1369.8,640.0 1373.4,668.6 1377.0,673.3 1380.6,718.8 1387.7,745.0 1391.0,766.5 1395.0,770.6 1399.0,787.0 1403.3,797.0 1407.4,821.5 1413.5,852.0 1420.3,887.5 1424.8,912.0 1429.0,926.0 1432.5,934.0 1435.0,937.0 1437.5,934.5 1441.0,929.5 1448.4,921.3 1455.1,898.8 1460.8,865.0 1465.3,820.0 1469.8,763.8 1473.1,714.3 1476.5,682.8 1479.9,688.4 1483.3,683.9 1487.8,707.5 1494.5,730.0 1499.0,766.0 1504.6,781.8 1504.6,781.8 1505.2,783.0 1505.7,783.6 1506.3,787.9 1506.9,786.7 1507.4,789.9 1508.0,791.1 1508.6,792.6 1509.2,795.6 1509.7,797.6 1510.3,797.5 1512.0,795.2 1513.7,796.7 1515.3,794.8 1517.0,795.3 1518.0,795.9 1518.9,796.8 1519.9,799.7 1520.9,800.4 1521.9,802.3 1522.8,801.7 1523.8,804.3 1525.2,806.3 1526.6,807.8 1528.0,806.0 1529.4,808.8 1530.3,805.9 1531.3,804.6 1532.2,803.9 1533.1,803.4 1534.1,803.3 1535.0,800.9 1535.7,800.9 1536.4,802.0 1537.0,803.8 1537.7,807.8 1538.4,807.1 1539.1,810.6 1539.8,812.7 1540.4,811.9 1541.1,815.7 1541.8,815.5 1543.5,815.9 1545.2,817.6 1546.8,817.1 1548.5,817.8 1549.8,818.4 1551.1,819.4 1552.4,820.9 1553.6,821.9 1554.9,822.8 1556.2,822.0 1557.5,824.5 1558.5,827.1 1559.5,825.2 1560.5,828.7 1561.5,829.4 1562.5,830.1 1563.5,832.9 1564.5,833.8 1565.5,835.1 1566.5,835.8 1567.3,837.0 1568.2,839.0 1569.0,838.7 1569.9,840.6 1570.8,842.1 1571.6,845.3 1572.5,846.4 1573.3,847.0 1574.6,849.9 1576.0,850.5 1577.3,849.9 1578.7,852.4 1580.0,853.8 1581.0,853.8 1581.9,855.7 1582.9,857.3 1583.8,858.1 1584.8,859.7 1585.8,862.9 1586.7,863.9 1587.7,864.3 1589.0,864.1 1590.3,866.4 1591.6,866.7 1592.9,869.8 1594.3,868.8 1595.6,870.9 1596.9,873.7 1598.2,873.7 1599.5,874.6 1601.0,873.9 1602.5,877.9 1603.9,877.7 1605.4,876.8 1606.9,877.9 1608.3,880.9 1609.8,880.6 1611.3,882.0 1612.8,883.0 1614.3,882.9 1615.8,883.7 1617.2,885.2 1618.7,886.0 1620.2,888.1 1621.7,889.4 1623.2,889.7 1624.6,890.2 1626.1,891.5 1627.5,893.8 1629.0,895.3 1630.5,897.5 1632.0,895.8 1633.5,898.6 1634.9,898.5 1636.4,899.1 1637.9,901.2 1639.0,901.6 1640.2,902.8 1641.3,905.1 1642.5,906.8 1643.6,906.0 1644.8,908.1 1645.9,910.0 1647.1,910.1 1648.2,911.5 1649.7,911.8 1651.2,914.9 1652.7,916.2 1654.1,916.8 1655.6,915.8 1657.1,918.3 1658.6,918.9 1659.8,920.3 1661.1,922.5 1662.3,921.8 1663.5,922.9 1664.8,925.7 1666.0,926.3 1667.3,927.9 1668.6,928.4 1669.9,930.2 1671.2,929.8 1672.4,931.5 1673.7,932.5 1675.0,934.7 1676.3,935.1 1677.8,935.7 1679.2,937.0 1680.7,939.1 1682.2,939.6 1683.6,939.6 1685.1,940.0 1686.5,942.1 1688.0,942.5 1689.3,944.3 1690.7,943.8 1692.0,945.2 1693.4,945.9 1694.7,948.0 1696.1,948.5 1697.4,948.2 1698.8,949.3 1700.1,950.0 1701.5,952.4 1702.8,952.8 1704.3,954.5 1705.8,955.4 1707.2,954.9 1708.7,955.2 1710.2,957.0 1711.7,959.0 1713.2,957.8 1714.6,959.3 1716.1,959.7 1717.6,961.7 1719.1,962.9 1720.6,963.2 1722.0,963.4 1723.5,964.3 1725.0,966.3 1726.5,966.1 1727.6,965.5 1728.8,963.7 1729.9,962.1 1731.0,960.2 1731.5,962.7 1731.9,963.8 1732.4,965.2 1732.9,967.6 1733.3,969.5 1733.8,970.6 1735.5,971.4 1737.1,972.4 1738.8,971.8 1740.4,972.5 1742.1,972.9 1743.8,974.9 1745.4,974.8 1747.1,975.0 1748.7,976.2 1750.4,975.9 1752.0,976.0 1753.7,977.2 1755.3,976.8 1757.0,978.9 1758.6,977.5 1760.3,978.5 1761.9,979.4 1763.5,981.0 1765.1,980.9 1766.7,979.8 1768.3,980.2 1769.9,981.3 1771.6,981.8 1773.2,983.3 1774.8,983.4 1776.4,983.2 1778.0,982.9 1779.6,983.8 1781.3,984.1 1783.0,984.9 1784.7,985.6 1786.3,985.2 1788.0,985.3 1789.7,985.9 1791.4,987.5 1793.0,988.7 1794.7,989.4 1796.3,988.9 1798.0,988.0 1799.6,989.0 1801.3,988.9 1802.9,990.1 1804.6,990.6 1806.2,991.2 1807.8,992.1 1809.5,992.1 1811.1,992.4 1812.8,993.7 1814.4,991.8 1816.1,993.6 1817.7,994.5 1819.4,994.8 1821.0,994.2 1822.6,994.7 1824.3,994.4 1825.9,995.4 1827.5,995.6 1829.2,996.0 1830.8,996.3 1832.4,995.3 1834.1,996.9 1835.7,997.1 1837.3,998.5 1839.0,997.5 1840.6,997.9 1842.2,999.2 1843.9,997.9 1845.5,997.5 1847.1,997.7 1848.8,999.8 1850.4,999.3 1852.0,999.2 1853.7,1000.1 1855.3,1000.1 1857.0,1000.2 1858.6,1000.8 1860.3,999.7 1861.9,1000.2 1863.6,1001.4 1865.2,1000.8 1866.9,1001.1 1868.6,1002.1 1870.3,1000.6 1872.0,1002.3 1873.7,1002.2 1875.4,1001.6 1877.1,1000.6 1878.8,1000.9 1880.5,1001.4 1882.2,1002.1 1883.9,1002.8 1885.6,1001.3 1887.3,1002.3" fill="none" stroke="#424242" stroke-width="2.4" stroke-linejoin="round"/>
<g stroke="#2a72d4" stroke-width="3.3" stroke-dasharray="14.5 12.1"><line x1="1362.8" y1="324" x2="1377.6" y2="1059"/><line x1="1476.9" y1="322.3" x2="1491.5" y2="1055.6"/></g>
<g stroke="#333" stroke-width="2.2" fill="none"><line x1="1433.8" y1="446.5" x2="1438.3" y2="706"/><polyline points="1428.8,691.3 1438.3,706.4 1448.4,691.3"/></g>
<text x="1279.7" y="1063.3" text-anchor="middle" font-size="26.5" fill="#4a4a4a" stroke="#4a4a4a" stroke-width="0.6">8</text>
<text x="1373.3" y="1063.3" text-anchor="middle" font-size="26.5" fill="#4a4a4a" stroke="#4a4a4a" stroke-width="0.6">9</text>
<text x="1466.9" y="1063.3" text-anchor="middle" font-size="26.5" fill="#4a4a4a" stroke="#4a4a4a" stroke-width="0.6">10</text>
<text x="1560.5" y="1063.3" text-anchor="middle" font-size="26.5" fill="#4a4a4a" stroke="#4a4a4a" stroke-width="0.6">11</text>
<text x="1654.1" y="1063.3" text-anchor="middle" font-size="26.5" fill="#4a4a4a" stroke="#4a4a4a" stroke-width="0.6">12</text>
<text x="1747.7" y="1063.3" text-anchor="middle" font-size="26.5" fill="#4a4a4a" stroke="#4a4a4a" stroke-width="0.6">13</text>
<text x="1841.3" y="1063.3" text-anchor="middle" font-size="26.5" fill="#4a4a4a" stroke="#4a4a4a" stroke-width="0.6">14</text>
<rect x="1229.9" y="268.6" width="660.6" height="814.3" fill="none" stroke="#000" stroke-width="4.5"/>
<text x="214.6" y="108.9" text-anchor="end" font-size="47.3" fill="#595959">30000</text>
<text x="214.6" y="296.7" text-anchor="end" font-size="47.3" fill="#595959">25000</text>
<text x="214.6" y="484.5" text-anchor="end" font-size="47.3" fill="#595959">20000</text>
<text x="214.6" y="672.3" text-anchor="end" font-size="47.3" fill="#595959">15000</text>
<text x="214.6" y="860.1" text-anchor="end" font-size="47.3" fill="#595959">10000</text>
<text x="214.6" y="1047.9" text-anchor="end" font-size="47.3" fill="#595959">5000</text>
<text x="214.6" y="1235.7" text-anchor="end" font-size="47.3" fill="#595959">0</text>
<text x="2098.3" y="107.4" font-size="45.6" fill="#1a1a1a">80000</text>
<text x="2098.3" y="248.2" font-size="45.6" fill="#1a1a1a">70000</text>
<text x="2098.3" y="389.0" font-size="45.6" fill="#1a1a1a">60000</text>
<text x="2098.3" y="529.8" font-size="45.6" fill="#1a1a1a">50000</text>
<text x="2098.3" y="670.6" font-size="45.6" fill="#1a1a1a">40000</text>
<text x="2098.3" y="811.4" font-size="45.6" fill="#1a1a1a">30000</text>
<text x="2098.3" y="952.2" font-size="45.6" fill="#1a1a1a">20000</text>
<text x="2098.3" y="1093.0" font-size="45.6" fill="#1a1a1a">10000</text>
<text x="2098.3" y="1233.8" font-size="45.6" fill="#1a1a1a">0</text>
<text x="261.5" y="1303" text-anchor="middle" font-size="45.5" font-weight="bold" fill="#595959">0</text>
<text x="485.6" y="1303" text-anchor="middle" font-size="45.5" font-weight="bold" fill="#595959">5</text>
<text x="709.6" y="1303" text-anchor="middle" font-size="45.5" font-weight="bold" fill="#595959">10</text>
<text x="933.7" y="1303" text-anchor="middle" font-size="45.5" font-weight="bold" fill="#595959">15</text>
<text x="1157.7" y="1303" text-anchor="middle" font-size="45.5" font-weight="bold" fill="#595959">20</text>
<text x="1381.8" y="1303" text-anchor="middle" font-size="45.5" font-weight="bold" fill="#595959">25</text>
<text x="1605.8" y="1303" text-anchor="middle" font-size="45.5" font-weight="bold" fill="#595959">30</text>
<text x="1829.9" y="1303" text-anchor="middle" font-size="45.5" font-weight="bold" fill="#595959">35</text>
<text x="2053.9" y="1303" text-anchor="middle" font-size="45.5" font-weight="bold" fill="#595959">40</text>
<text x="1023.6" y="1390.4" font-size="53.8" fill="#595959" textLength="265.5" lengthAdjust="spacingAndGlyphs">Time (Min)</text>
<text transform="translate(72.8,887.5) rotate(-90)" x="0" y="0" font-size="52.5" fill="#595959" textLength="514" lengthAdjust="spacingAndGlyphs">Intensity ICP-MS, cps</text>
<text x="559" y="67" font-size="54" font-weight="bold" fill="#000" textLength="106" lengthAdjust="spacingAndGlyphs">void</text>
<text x="722.6" y="67" font-size="52" font-weight="bold" fill="#000" textLength="167" lengthAdjust="spacingAndGlyphs">50 kDa</text>
<text x="933.5" y="67" font-size="52" font-weight="bold" fill="#000" textLength="168" lengthAdjust="spacingAndGlyphs">29 kDa</text>
<line x1="1196.5" y1="78.3" x2="1289.6" y2="78.3" stroke="#e60000" stroke-width="7"/>
<line x1="1196.5" y1="170.3" x2="1291.9" y2="170.3" stroke="#525252" stroke-width="6.8"/>
<text x="1324.3" y="79.3" font-size="56.5" fill="#111" textLength="371" lengthAdjust="spacingAndGlyphs">Treated cytosol</text>
<text x="1326" y="180.6" font-size="56.5" fill="#111" textLength="632.5" lengthAdjust="spacingAndGlyphs">Cytosol incubated with Ag</text>
<text x="1956" y="162.7" font-size="37" fill="#111">+</text></svg>
</body></html>
